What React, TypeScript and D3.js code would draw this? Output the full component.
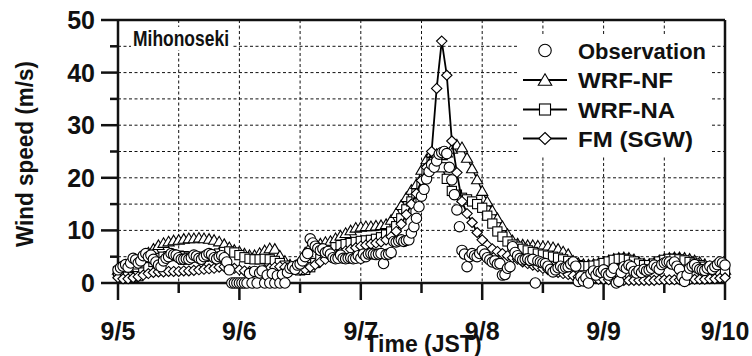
import React from 'react';
import * as d3 from 'd3';

// ---- data ----
const dayLabels = ['9/5', '9/6', '9/7', '9/8', '9/9', '9/10'];
const yTickValues = [0, 10, 20, 30, 40, 50];
const seriesNames = ['Observation', 'WRF-NF', 'WRF-NA', 'FM (SGW)'];
const stationName = 'Mihonoseki';
const modelStepHours = 1;
const obsStepHours = 0.5;

// hourly, 9/5 00JST .. 9/10 00JST
const wrfNF = [
  2.5, 2.6, 3.0, 3.5, 4.2, 5.0, 5.8, 6.5, 7.2, 7.6,
  7.9, 8.1, 8.2, 8.4, 8.5, 8.5, 8.6, 8.5, 8.4, 8.2,
  7.9, 7.4, 6.8, 6.3, 6.0, 5.6, 5.3, 5.3, 5.7, 6.2,
  6.6, 6.5, 5.2, 4.2, 3.5, 3.2, 4.0, 5.8, 7.0, 7.3,
  7.5, 7.8, 8.0, 8.5, 9.0, 9.5, 10.0, 10.5, 10.7, 10.8,
  10.8, 10.9, 11.0, 11.2, 12.0, 13.3, 14.8, 16.3, 17.7, 18.8,
  21.5, 23.5, 24.8, 24.5, 24.3, 24.8, 25.5, 26.3, 25.8, 23.8,
  21.8, 19.7, 17.5, 15.5, 13.8, 12.3, 10.8, 9.3, 8.1, 7.5,
  7.3, 7.2, 7.2, 7.1, 7.0, 7.0, 6.8, 6.5, 6.0, 5.5,
  4.2, 3.8, 3.6, 3.5, 3.6, 3.8, 4.0, 4.3, 4.6, 4.8,
  4.9, 4.8, 4.5, 4.0, 3.7, 3.6, 3.9, 4.3, 4.6, 4.8,
  4.9, 4.9, 4.8, 4.6, 4.3, 4.0, 3.6, 3.2, 2.9, 2.7, 2.5,
];

const wrfNA = [
  2.2, 1.6, 1.2, 1.1, 1.3, 2.0, 3.0, 4.0, 4.7, 5.0,
  5.1, 5.2, 5.2, 5.1, 5.0, 4.9, 4.9, 5.0, 5.1, 5.3,
  5.6, 5.9, 6.0, 5.8, 5.3, 4.9, 4.6, 4.5, 4.5, 4.6,
  4.5, 4.2, 3.8, 3.3, 2.9, 2.6, 2.4, 2.5, 3.0, 3.8,
  4.6, 5.4, 6.2, 6.8, 7.2, 7.4, 7.6, 7.8, 8.0, 8.1,
  8.2, 8.4, 8.7, 9.2, 9.8, 10.8, 12.3, 14.0, 15.5, 17.0,
  18.8, 21.0, 23.0, 23.5, 22.0, 19.8, 17.5, 16.8, 16.2, 15.9,
  15.5, 15.0, 14.3, 12.8, 11.3, 9.8, 8.8, 7.9, 7.3, 6.9,
  6.5, 6.2, 5.9, 5.6, 5.4, 5.2, 5.0, 4.8, 4.5, 4.2,
  3.8, 3.4, 3.2, 3.2, 3.3, 3.5, 3.8, 4.1, 4.4, 4.6,
  4.6, 4.4, 4.1, 3.7, 3.4, 3.4, 3.7, 4.1, 4.4, 4.6,
  4.6, 4.5, 4.3, 4.0, 3.7, 3.4, 3.1, 2.8, 2.5, 2.3, 2.1,
];

const fmSGW = [
  1.0, 0.8, 0.8, 1.0, 1.2, 1.5, 1.8, 2.0, 2.1, 2.1,
  2.2, 2.2, 2.2, 2.3, 2.3, 2.4, 2.5, 2.6, 2.7, 2.8,
  3.0, 3.1, 3.0, 2.8, 2.5, 2.3, 2.2, 2.2, 2.3, 2.5,
  2.8, 3.0, 3.1, 3.0, 2.8, 2.6, 2.5, 2.6, 3.0, 3.5,
  4.0, 4.5, 5.0, 5.4, 5.8, 6.1, 6.4, 6.7, 7.0, 7.2,
  7.4, 7.6, 7.8, 8.2, 8.8, 9.8, 11.2, 13.0, 15.0, 17.0,
  19.5, 22.0, 25.0, 37.0, 46.0, 39.5, 27.0, 21.0, 15.5, 13.2,
  11.5, 9.6, 8.2, 7.2, 6.5, 6.0, 5.6, 5.2, 4.8, 4.5,
  4.0, 3.7, 3.4, 3.1, 2.8, 2.5, 2.2, 2.0, 1.8, 1.6,
  1.4, 1.2, 1.0, 0.9, 0.8, 0.7, 0.7, 0.6, 0.6, 0.5,
  0.5, 0.5, 0.5, 0.5, 0.5, 0.5, 0.5, 0.6, 0.6, 0.6,
  0.6, 0.6, 0.6, 0.6, 0.7, 0.7, 0.7, 0.8, 0.8, 0.9, 1.0,
];

// every 30 min
const observation = [
  2.5, 2.9, 3.2, 3.5, 3.0, 3.8, 4.7, 4.4, 3.8, 4.2,
  5.2, 5.6, 5.0, 5.3, 4.5, 4.0, 3.4, 3.1, 4.2, 4.7,
  5.0, 5.6, 5.4, 5.3, 4.8, 4.5, 4.5, 4.6, 4.5, 4.8,
  5.3, 5.1, 4.7, 4.5, 5.0, 5.3, 5.6, 5.4, 4.8, 4.6,
  5.0, 5.2, 4.8, 4.0, 2.5, 0, 0, 0,
  0, 0, 0, 0, 1.8, 0, 2.2, 0, 1.9, 2.3,
  0, 1.5, 0, 1.8, 0, 1.4, 0, 1.6, 0, 2.0,
  2.8, 3.1, 2.6, 3.4, 3.6, 4.2, 5.0, 5.6, 8.4, 7.6,
  7.0, 6.6, 6.2, 6.5, 5.8, 6.0, 5.5, 4.8, 4.6, 4.7,
  5.3, 4.7, 4.6, 4.7, 4.8, 4.6, 4.7, 5.2,
  4.7, 5.5, 5.0, 5.5, 5.6, 5.5, 5.4, 5.5, 5.6, 3.7,
  5.4, 5.5, 5.8, 7.9, 7.8, 8.0, 8.2, 7.9, 8.1, 8.2,
  9.5, 10.7, 12.3, 14.5, 16.5, 17.8, 19.8, 21.2, 22.5, 22.0,
  23.2, 24.5, 24.8, 25.0, 24.6, 22.0, 19.6, 16.8, 13.9, 10.7,
  6.2, 5.5, 3.1, 5.0, 5.6, 5.2, 5.0, 5.6,
  6.2, 5.5, 4.8, 4.4, 4.0, 4.2, 3.6, 3.7, 1.5, 1.6,
  2.8, 3.1, 6.9, 5.8, 5.2, 4.7, 4.4, 4.5, 4.6, 4.3,
  4.5, 0, 4.2, 4.0, 3.8, 3.7, 3.2, 2.6, 2.1, 2.5,
  2.9, 3.2, 2.8, 3.0, 3.1, 3.6, 4.0, 3.2, 0.3, 1.2,
  0.4, 1.0, 0, 1.8, 2.3, 1.5, 2.2, 2.0,
  2.5, 1.8, 1.5, 2.0, 2.8, 0, 0.3, 2.0, 3.1, 2.8,
  3.4, 3.1, 2.2, 1.9, 2.4, 2.0, 2.6, 2.3, 2.5, 2.8,
  3.4, 3.0, 2.6, 3.5, 3.8, 4.0, 4.0, 3.6, 4.0, 3.2,
  2.6, 1.2, 0.3, 1.5, 2.8, 3.2, 3.5, 2.9, 2.6, 2.5,
  2.4, 2.8, 3.2, 2.6, 3.1, 3.5, 4.0, 3.8, 3.4,
];

// ---- drawing helpers ----
const FONT = 'Liberation Sans, Arial, Helvetica, sans-serif';

type Kind = 'circle' | 'triangle' | 'square' | 'diamond';

function Marker({ kind, cx, cy, s = 1 }: { kind: Kind; cx: number; cy: number; s?: number }) {
  const common = { fill: '#fff', stroke: '#000', strokeWidth: 1.1 };
  if (kind === 'circle') return <circle cx={cx} cy={cy} r={5.2 * s} {...common} />;
  if (kind === 'square') {
    const h = 4.6 * s;
    return <rect x={cx - h} y={cy - h} width={2 * h} height={2 * h} {...common} />;
  }
  if (kind === 'triangle') {
    const w = 5.6 * s, t = 5.2 * s, b = 4.4 * s;
    return <path d={`M${cx},${cy - t}L${cx + w},${cy + b}L${cx - w},${cy + b}Z`} {...common} />;
  }
  const w = 5.2 * s, h = 5.0 * s;
  return <path d={`M${cx},${cy - h}L${cx + w},${cy}L${cx},${cy + h}L${cx - w},${cy}Z`} {...common} />;
}

export default function App() {
  const x = d3.scaleLinear().domain([0, 120]).range([118, 725]);
  const y = d3.scaleLinear().domain([0, 50]).range([283, 20]);

  const line = d3
    .line<[number, number]>()
    .x((d) => x(d[0]))
    .y((d) => y(d[1]));

  const toPts = (arr: number[], step: number): [number, number][] => arr.map((v, i) => [i * step, v]);

  const models: { pts: [number, number][]; kind: Kind }[] = [
    { pts: toPts(wrfNF, modelStepHours), kind: 'triangle' },
    { pts: toPts(wrfNA, modelStepHours), kind: 'square' },
    { pts: toPts(fmSGW, modelStepHours), kind: 'diamond' },
  ];
  const obsPts = toPts(observation, obsStepHours);

  const halfDays = d3.range(0, 121, 12);
  const fives = d3.range(5, 50, 5);
  const legendKinds: Kind[] = ['circle', 'triangle', 'square', 'diamond'];
  const legendY = [50.5, 80, 109.5, 138.5];
  const legendW = [128, 95, 97, 115];

  return (
    <svg width={752} height={356} style={{ position: 'absolute', left: 0, top: 0 }} fontFamily={FONT}>
      <rect x={0} y={0} width={752} height={356} fill="#fff" />
      {/* grid */}
      <g stroke="#111" strokeWidth={1} strokeDasharray="3,2.5" fill="none">
        {fives.map((v) => (
          <line key={'h' + v} x1={x(0)} x2={x(120)} y1={y(v)} y2={y(v)} />
        ))}
        {halfDays.slice(1, -1).map((h) => (
          <line key={'v' + h} x1={x(h)} x2={x(h)} y1={y(50)} y2={y(0)} />
        ))}
      </g>
      {/* legend & station label backgrounds */}
      <rect x={519} y={36} width={193} height={120} fill="#fff" />
      <rect x={131} y={27} width={100} height={23} fill="#fff" />

      {/* axes */}
      <g stroke="#111" strokeWidth={2.5} fill="none">
        <line x1={x(0)} x2={x(120)} y1={y(50)} y2={y(50)} />
        <line x1={x(0)} x2={x(120)} y1={y(0)} y2={y(0)} />
        <line x1={x(0)} x2={x(0)} y1={y(50)} y2={y(0)} />
        <line x1={x(120)} x2={x(120)} y1={y(50)} y2={y(0)} />
        {halfDays.map((h) => (
          <line key={'xt' + h} x1={x(h)} x2={x(h)} y1={y(0)} y2={y(0) + (h % 24 === 0 ? 17 : 10)} />
        ))}
        {d3.range(0, 51, 5).map((v) => (
          <line key={'yt' + v} x1={x(0) - (v % 10 === 0 ? 17 : 8)} x2={x(0)} y1={y(v)} y2={y(v)} />
        ))}
      </g>

      {/* model series */}
      {models.map((m, i) => (
        <g key={'m' + i}>
          <path d={line(m.pts) || ''} fill="none" stroke="#000" strokeWidth={i === 2 ? 1.8 : 1.4} />
          {m.pts.map((p, j) => (
            <Marker key={j} kind={m.kind} cx={x(p[0])} cy={y(p[1])} />
          ))}
        </g>
      ))}
      {/* observation */}
      <g>
        {obsPts.map((p, j) => (
          <Marker key={j} kind="circle" cx={x(p[0])} cy={y(p[1])} />
        ))}
      </g>

      {/* tick labels */}
      <g fontWeight="bold" fontSize={25} fill="#111">
        {yTickValues.map((v) => (
          <text key={'yl' + v} x={95} y={y(v) + 9} textAnchor="end">
            {v}
          </text>
        ))}
        {dayLabels.map((d, i) => (
          <text key={'xl' + d} x={x(i * 24)} y={340} textAnchor="middle">
            {d}
          </text>
        ))}
      </g>
      <text x={423} y={352} textAnchor="middle" fontWeight="bold" fontSize={23} fill="#111">
        Time (JST)
      </text>
      <text
        transform="translate(33,154) rotate(-90)"
        textAnchor="middle"
        fontWeight="bold"
        fontSize={24}
        textLength={186}
        lengthAdjust="spacingAndGlyphs"
        fill="#111"
      >
        Wind speed (m/s)
      </text>
      <text x={133} y={46} fontWeight="bold" fontSize={22} textLength={96} lengthAdjust="spacingAndGlyphs" fill="#111">
        {stationName}
      </text>

      {/* legend */}
      {seriesNames.map((name, i) => (
        <g key={'lg' + i}>
          {i > 0 && <line x1={523} x2={567} y1={legendY[i]} y2={legendY[i]} stroke="#000" strokeWidth={2} />}
          <Marker kind={legendKinds[i]} cx={545} cy={legendY[i]} s={1.2} />
          <text
            x={578}
            y={legendY[i] + 8}
            fontWeight="bold"
            fontSize={22}
            textLength={legendW[i]}
            lengthAdjust="spacingAndGlyphs"
            fill="#111"
          >
            {name}
          </text>
        </g>
      ))}
    </svg>
  );
}
